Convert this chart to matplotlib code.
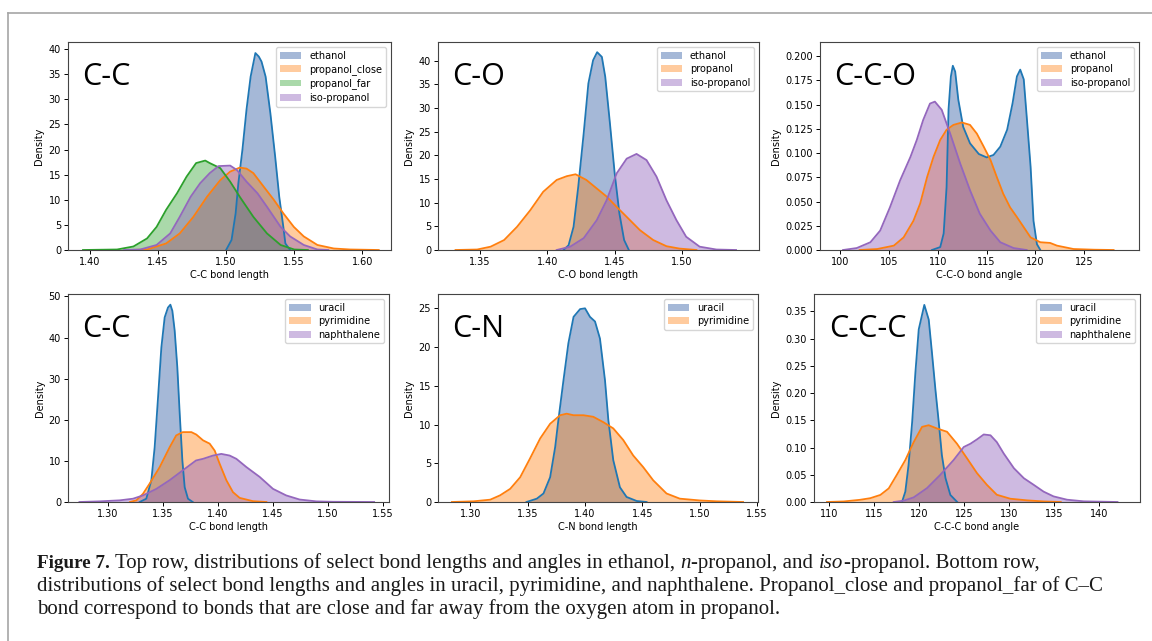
import numpy as np
import matplotlib.pyplot as plt
from matplotlib.lines import Line2D
from matplotlib.ticker import MultipleLocator, FormatStrFormatter

# ---- top row: C-C bond length (ethanol / propanol) ----
cc1_eth_x = [1.500, 1.504, 1.507, 1.509, 1.512, 1.515, 1.518, 1.5215, 1.524, 1.526, 1.529, 1.5325, 1.536, 1.539, 1.542, 1.5435, 1.547]
cc1_eth_y = [0, 2, 7.3, 13.3, 20, 28, 34.5, 39.2, 38.5, 37.5, 34.5, 27.2, 18.6, 10.6, 4.6, 1.3, 0]
cc1_close_x = [1.430, 1.442, 1.456, 1.466, 1.476, 1.486, 1.4957, 1.503, 1.510, 1.515, 1.520, 1.5276, 1.535, 1.542, 1.5497, 1.557, 1.567, 1.579, 1.591, 1.612]
cc1_close_y = [0, 0.1, 1.3, 3.3, 6.6, 10.6, 13.9, 15.6, 16.4, 16.2, 15.3, 12.6, 10.0, 7.3, 4.6, 2.7, 1.0, 0.3, 0.1, 0]
cc1_far_x = [1.395, 1.420, 1.432, 1.442, 1.449, 1.456, 1.464, 1.471, 1.478, 1.4847, 1.488, 1.4957, 1.503, 1.510, 1.520, 1.530, 1.540, 1.550, 1.560]
cc1_far_y = [0, 0.1, 0.7, 2.3, 4.6, 8.0, 11.3, 14.6, 17.3, 17.8, 17.3, 16.3, 13.6, 10.6, 6.6, 3.3, 1.0, 0.1, 0]
cc1_iso_x = [1.425, 1.437, 1.449, 1.459, 1.466, 1.474, 1.481, 1.488, 1.4945, 1.503, 1.508, 1.515, 1.523, 1.530, 1.540, 1.547, 1.557, 1.567, 1.575]
cc1_iso_y = [0, 0.1, 1.0, 3.3, 6.6, 10.6, 13.3, 15.3, 16.7, 16.8, 15.9, 13.6, 11.3, 8.6, 4.6, 2.7, 1.0, 0.1, 0]

# ---- top row: C-O bond length ----
co_eth_x = [1.412, 1.4158, 1.4195, 1.423, 1.427, 1.4305, 1.434, 1.437, 1.4405, 1.443, 1.4465, 1.450, 1.4535, 1.457, 1.4605]
co_eth_y = [0, 1, 4.9, 13.4, 24.6, 35.2, 40.1, 41.8, 40.8, 36.6, 26.7, 16.2, 7.7, 2.1, 0]
co_prop_x = [1.332, 1.348, 1.358, 1.368, 1.3776, 1.3874, 1.397, 1.407, 1.4145, 1.421, 1.429, 1.4367, 1.444, 1.4515, 1.4589, 1.4687, 1.4786, 1.4884, 1.498, 1.5106]
co_prop_y = [0, 0.1, 0.7, 2.1, 4.9, 8.4, 12.3, 14.8, 15.6, 16.0, 14.8, 13.0, 11.3, 9.1, 7.0, 4.2, 2.1, 0.8, 0.3, 0]
co_iso_x = [1.407, 1.417, 1.427, 1.4367, 1.444, 1.4515, 1.4589, 1.4662, 1.4736, 1.481, 1.4884, 1.4958, 1.503, 1.513, 1.5254, 1.540]
co_iso_y = [0, 0.7, 2.5, 6.3, 10.5, 16.2, 19.3, 20.3, 19.0, 15.5, 10.5, 6.3, 2.8, 0.7, 0.1, 0]

# ---- top row: C-C-O bond angle ----
cco_eth_x = [109.4, 110.25, 110.6, 110.9, 111.1, 111.34, 111.54, 111.78, 112.1, 112.6, 113.3, 114.2, 115.0, 115.7, 116.4, 117.1, 117.66, 118.1, 118.44, 118.8, 119.1, 119.5, 119.8, 120.15, 120.5]
cco_eth_y = [0, 0.003, 0.017, 0.065, 0.145, 0.179, 0.190, 0.184, 0.155, 0.127, 0.110, 0.099, 0.0955, 0.098, 0.1066, 0.124, 0.1516, 0.179, 0.186, 0.176, 0.138, 0.086, 0.030, 0.006, 0]
cco_prop_x = [102.0, 103.8, 105.5, 106.5, 107.5, 108.2, 108.9, 109.56, 110.25, 110.9, 111.6, 112.47, 113.3, 114.0, 114.7, 115.4, 116.05, 116.7, 117.4, 118.1, 118.8, 119.5, 120.5, 121.5, 122.2, 123.9, 126.0, 128.0]
cco_prop_y = [0, 0.001, 0.0045, 0.013, 0.030, 0.048, 0.075, 0.096, 0.1135, 0.124, 0.129, 0.1315, 0.129, 0.120, 0.1066, 0.0927, 0.075, 0.058, 0.044, 0.034, 0.0235, 0.013, 0.008, 0.0073, 0.0045, 0.001, 0.0003, 0]
cco_iso_x = [100.3, 101.7, 103.1, 104.1, 105.1, 106.15, 107.2, 107.85, 108.5, 109.2, 109.7, 110.4, 111.27, 112.3, 113.3, 114.3, 115.4, 116.4, 117.76, 119.1]
cco_iso_y = [0, 0.002, 0.008, 0.020, 0.044, 0.072, 0.096, 0.1135, 0.134, 0.151, 0.153, 0.1446, 0.120, 0.089, 0.0616, 0.0374, 0.020, 0.008, 0.002, 0]

# ---- bottom row: C-C bond length (aromatics) ----
cc2_ura_x = [1.3288, 1.3348, 1.3394, 1.3424, 1.3455, 1.3485, 1.3515, 1.3545, 1.3567, 1.3585, 1.3606, 1.363, 1.3652, 1.3676, 1.3697, 1.3727, 1.377]
cc2_ura_y = [0, 0.8, 5.3, 13.3, 25.5, 37.6, 44.9, 47.3, 48.0, 46.5, 41.7, 32.8, 21.4, 10.1, 3.6, 0.8, 0]
cc2_pyr_x = [1.320, 1.3258, 1.3318, 1.3379, 1.347, 1.356, 1.362, 1.368, 1.3758, 1.3803, 1.3864, 1.3924, 1.397, 1.4015, 1.4076, 1.4136, 1.4197, 1.4318, 1.444]
cc2_pyr_y = [0, 0.4, 2.0, 4.5, 8.5, 13.3, 16.2, 17.0, 17.0, 16.4, 15.0, 14.2, 12.5, 9.3, 5.3, 2.4, 1.0, 0.2, 0]
cc2_nap_x = [1.274, 1.292, 1.3106, 1.3227, 1.3318, 1.344, 1.356, 1.368, 1.380, 1.3864, 1.3955, 1.403, 1.4106, 1.4167, 1.4258, 1.4379, 1.450, 1.462, 1.4742, 1.4894, 1.5045, 1.542]
cc2_nap_y = [0, 0.15, 0.4, 0.8, 1.6, 3.2, 5.3, 7.7, 10.1, 10.5, 11.3, 11.7, 11.3, 10.5, 8.5, 6.1, 3.2, 1.6, 0.6, 0.15, 0.05, 0]

# ---- bottom row: C-N bond length ----
cn_ura_x = [1.349, 1.358, 1.3638, 1.3696, 1.374, 1.3768, 1.3812, 1.3855, 1.390, 1.3957, 1.400, 1.4043, 1.4087, 1.413, 1.4174, 1.4203, 1.4246, 1.4304, 1.4362, 1.445, 1.4536]
cn_ura_y = [0, 0.43, 1.1, 3.2, 7.1, 10.6, 15.7, 20.5, 23.9, 24.9, 25.0, 23.9, 23.3, 21.1, 15.7, 10.6, 5.4, 1.9, 0.65, 0.13, 0]
cn_pyr_x = [1.284, 1.303, 1.3174, 1.326, 1.3348, 1.3435, 1.352, 1.3609, 1.3696, 1.3783, 1.384, 1.390, 1.3986, 1.4072, 1.416, 1.4246, 1.4333, 1.442, 1.4507, 1.4594, 1.471, 1.4826, 1.500, 1.5145, 1.5377]
cn_pyr_y = [0, 0.09, 0.3, 0.86, 1.7, 3.2, 5.6, 8.2, 10.1, 11.2, 11.4, 11.2, 11.2, 11.0, 10.3, 9.5, 8.0, 6.0, 4.5, 2.8, 1.1, 0.43, 0.2, 0.09, 0]

# ---- bottom row: C-C-C bond angle ----
ccc_ura_x = [118.07, 118.44, 118.8, 119.2, 119.56, 119.93, 120.55, 121.04, 121.4, 121.78, 122.15, 122.5, 122.9, 123.44, 124.2]
ccc_ura_y = [0, 0.019, 0.068, 0.147, 0.238, 0.317, 0.362, 0.335, 0.274, 0.207, 0.147, 0.086, 0.044, 0.013, 0]
ccc_pyr_x = [109.74, 111.6, 113.4, 114.55, 115.67, 116.6, 117.5, 118.44, 119.37, 120.3, 121.04, 121.96, 123.07, 124.18, 125.3, 126.4, 127.5, 128.6, 130.1, 131.96, 133.8, 135.7]
ccc_pyr_y = [0, 0.001, 0.004, 0.007, 0.013, 0.025, 0.050, 0.077, 0.110, 0.138, 0.141, 0.135, 0.129, 0.107, 0.080, 0.053, 0.0315, 0.0133, 0.006, 0.003, 0.001, 0]
ccc_nap_x = [117.15, 118.26, 119.37, 120.85, 122.33, 123.8, 124.93, 125.67, 126.4, 127.15, 127.9, 128.6, 129.37, 130.5, 131.6, 132.7, 133.8, 134.9, 136.4, 138.26, 142.0]
ccc_nap_y = [0, 0.0024, 0.0085, 0.0255, 0.050, 0.077, 0.101, 0.107, 0.115, 0.124, 0.1225, 0.110, 0.089, 0.062, 0.0437, 0.0315, 0.019, 0.0103, 0.0042, 0.0012, 0]

LINE = {'blue': '#1f77b4', 'orange': '#ff7f0e', 'green': '#2ca02c', 'purple': '#9467bd'}
FILL = {'blue': ('#4c72b0', 0.5), 'orange': ('#ff7f0e', 0.4), 'green': ('#2ca02c', 0.4), 'purple': ('#9467bd', 0.45)}

W, H = 1152, 641
fig = plt.figure(figsize=(W / 100, H / 100), dpi=100)


def make_ax(l, r, t, b):
    return fig.add_axes([l / W, 1 - b / H, (r - l) / W, (b - t) / H])


panels = [
    dict(box=(68, 391, 42, 250), tag='C-C', xlabel='C-C bond length',
         series=[('ethanol', cc1_eth_x, cc1_eth_y, 'blue'),
                 ('propanol_close', cc1_close_x, cc1_close_y, 'orange'),
                 ('propanol_far', cc1_far_x, cc1_far_y, 'green'),
                 ('iso-propanol', cc1_iso_x, cc1_iso_y, 'purple')],
         xlim=(1.384, 1.621), ylim=(0, 41.4), xticks=np.arange(1.40, 1.601, 0.05),
         ystep=5, yfmt='%d', xfmt='%.2f'),
    dict(box=(438, 759, 42, 250), tag='C-O', xlabel='C-O bond length',
         series=[('ethanol', co_eth_x, co_eth_y, 'blue'),
                 ('propanol', co_prop_x, co_prop_y, 'orange'),
                 ('iso-propanol', co_iso_x, co_iso_y, 'purple')],
         xlim=(1.319, 1.557), ylim=(0, 43.95), xticks=np.arange(1.35, 1.501, 0.05),
         ystep=5, yfmt='%d', xfmt='%.2f'),
    dict(box=(820, 1139, 42, 250), tag='C-C-O', xlabel='C-C-O bond angle',
         series=[('ethanol', cco_eth_x, cco_eth_y, 'blue'),
                 ('propanol', cco_prop_x, cco_prop_y, 'orange'),
                 ('iso-propanol', cco_iso_x, cco_iso_y, 'purple')],
         xlim=(97.94, 130.6), ylim=(0, 0.2145), xticks=np.arange(100, 126, 5),
         ystep=0.025, yfmt='%.3f', xfmt='%d'),
    dict(box=(68, 389, 294, 502), tag='C-C', xlabel='C-C bond length',
         series=[('uracil', cc2_ura_x, cc2_ura_y, 'blue'),
                 ('pyrimidine', cc2_pyr_x, cc2_pyr_y, 'orange'),
                 ('naphthalene', cc2_nap_x, cc2_nap_y, 'purple')],
         xlim=(1.2636, 1.5555), ylim=(0, 50.6), xticks=np.arange(1.30, 1.551, 0.05),
         ystep=10, yfmt='%d', xfmt='%.2f'),
    dict(box=(438, 758, 294, 502), tag='C-N', xlabel='C-N bond length',
         series=[('uracil', cn_ura_x, cn_ura_y, 'blue'),
                 ('pyrimidine', cn_pyr_x, cn_pyr_y, 'orange')],
         xlim=(1.2719, 1.5507), ylim=(0, 26.85), xticks=np.arange(1.30, 1.551, 0.05),
         ystep=5, yfmt='%d', xfmt='%.2f'),
    dict(box=(814, 1140, 294, 502), tag='C-C-C', xlabel='C-C-C bond angle',
         series=[('uracil', ccc_ura_x, ccc_ura_y, 'blue'),
                 ('pyrimidine', ccc_pyr_x, ccc_pyr_y, 'orange'),
                 ('naphthalene', ccc_nap_x, ccc_nap_y, 'purple')],
         xlim=(108.3, 144.5), ylim=(0, 0.382), xticks=np.arange(110, 141, 5),
         ystep=0.05, yfmt='%.2f', xfmt='%d'),
]

for p in panels:
    ax = make_ax(*p['box'])
    for name, xs, ys, c in p['series']:
        fc, a = FILL[c]
        ax.fill_between(xs, ys, 0, color=fc, alpha=a, lw=0, label=name)
        ax.plot(xs, ys, color=LINE[c], lw=1.3)
    ax.set_xlim(*p['xlim'])
    ax.set_ylim(*p['ylim'])
    ax.set_xticks(p['xticks'])
    ax.yaxis.set_major_locator(MultipleLocator(p['ystep']))
    ax.xaxis.set_major_formatter(FormatStrFormatter(p['xfmt']))
    ax.yaxis.set_major_formatter(FormatStrFormatter(p['yfmt']))
    ax.tick_params(labelsize=7, length=3, width=0.7, pad=2)
    ax.set_xlabel(p['xlabel'], fontsize=7, labelpad=2)
    ax.set_ylabel('Density', fontsize=7, labelpad=3)
    for s in ax.spines.values():
        s.set_color('#444444')
        s.set_linewidth(0.8)
    ax.legend(loc='upper right', fontsize=7, handlelength=2.2, borderpad=0.4, labelspacing=0.35)
    ax.text(0.045, 0.83, p['tag'], transform=ax.transAxes, fontsize=22,
            family=['Open Sans', 'DejaVu Sans'], va='center', ha='left')

# page frame lines
fig.add_artist(Line2D([8 / W, 8 / W], [0, 1 - 13 / H], color='#a6a6a6', lw=1.2))
fig.add_artist(Line2D([8 / W, 1], [1 - 13 / H, 1 - 13 / H], color='#a6a6a6', lw=1.2))

# caption
cap_size = 15.0
serif = 'Liberation Serif'
cap_lines = [
    [('Figure 7.', 'bold', True),
     ('Top row, distributions of select bond lengths and angles in ethanol,', 'normal', True),
     ('n', 'italic', False),
     ('-propanol, and', 'normal', True),
     ('iso', 'italic', False),
     ('-propanol. Bottom row,', 'normal', False)],
    [('distributions of select bond lengths and angles in uracil, pyrimidine, and naphthalene. '
      'Propanol_close and propanol_far of C\u2013C', 'normal', False)],
    [('bond correspond to bonds that are close and far away from the oxygen atom in propanol.', 'normal', False)],
]
cap_y = [568, 591, 614]

renderer = fig.canvas.get_renderer()
space_px = cap_size * 100 / 72 * 0.25
for runs, yb in zip(cap_lines, cap_y):
    x = 37.0
    for txt, sty, gap in runs:
        weight = 'bold' if sty == 'bold' else 'normal'
        style = 'italic' if sty == 'italic' else 'normal'
        size = cap_size * 0.92 if sty == 'bold' else cap_size
        t = fig.text(x / W, 1 - yb / H, txt, fontsize=size, family=serif,
                     weight=weight, style=style, va='baseline', ha='left', color='#1a1a1a')
        bb = t.get_window_extent(renderer)
        x = bb.x1 + (space_px if gap else 0.5)

fig.savefig('out.png', dpi=100)
